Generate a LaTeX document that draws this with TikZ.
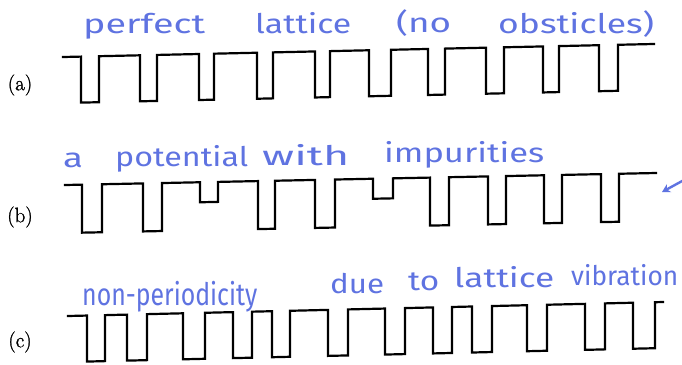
\documentclass[tikz,border=0pt]{standalone}
\usepackage{fontspec}
\usepackage{graphicx}
\usetikzlibrary{arrows.meta}
\newfontfamily\handfont{Fira Sans}
\newfontface\labfont[FakeBold=1.2]{Latin Modern Roman}
\definecolor{handblue}{RGB}{95,115,225}
\newcommand{\hwword}[3][1]{\resizebox{#2pt}{#1\height}{\handfont\fontsize{27}{30}\selectfont #3}}
\newcommand{\labtext}[1]{\labfont\fontsize{21}{23}\selectfont #1}
\begin{document}
\begin{tikzpicture}[x=1pt,y=-1pt,
  wave/.style={line width=2.2pt,line join=miter,line cap=rect,black},
  hand/.style={inner sep=0pt,anchor=base west,text=handblue},
  lab/.style={inner sep=0pt}]
\useasboundingbox[fill=white] (0,0) rectangle (682,364);

% labels
\node[lab] (la) at (20,85) {\labtext{(a)}};
\node[lab] (lb) at (20,217) {\labtext{(b)}};
\node[lab] (lc) at (20,342) {\labtext{(c)}};

% handwritten captions
\node[hand] (a1) at (83,33) {\hwword{122}{perfect}};
\node[hand] (a2) at (255,33) {\hwword{96}{lattice}};
\node[hand] (a3) at (396,33) {\hwword{55}{(no}};
\node[hand] (a4) at (498,34) {\hwword{156}{obsticles)}};

\node[hand] (b1) at (63,167) {\hwword{20}{a}};
\node[hand] (b2) at (115,166) {\hwword{133}{potential}};
\node[hand] (b3) at (262,165) {\hwword{87}{with}};
\node[hand] (b4) at (384,162) {\hwword{160}{impurities}};

\node[hand] (c1) at (82,305) {\hwword[1.15]{175}{non-periodicity}};
\node[hand] (c2) at (330,293) {\hwword{54}{due}};
\node[hand] (c3) at (408,290) {\hwword{31}{to}};
\node[hand] (c4) at (454,287) {\hwword{100}{lattice}};
\node[hand] (c5) at (571,285) {\hwword{107}{vibration}};

% (a) perfect lattice
\begin{scope}[shift={(63,57)},yslant=0.022]
\draw[wave] (0,0)
  \foreach \a/\b in {18/36,77/94,136/151,194/210,252/267,306/328,365/382,423/441,480/496,536/555}
  { -- (\a,0) -- (\a,46) -- (\b,46) -- (\b,0) } -- (591,0);
\end{scope}

% (b) potential with impurities
\begin{scope}[shift={(65,185)},yslant=0.0203]
\draw[wave] (0,0)
  \foreach \a/\b/\d in {17/37/48,78/97/48,135/153/20,193/210/48,250/270/48,308/328/20,365/384/48,423/441/48,479/497/48,536/554/48}
  { -- (\a,0) -- (\a,\d) -- (\b,\d) -- (\b,0) } -- (591,0);
\end{scope}
\coordinate (arrs) at (684,180);
\coordinate (arre) at (662,192);
\draw[handblue,line width=2.4pt,-{Stealth[length=8pt,width=9pt]}] (arrs) -- (arre);

% (c) lattice vibration
\begin{scope}[shift={(68,316)},yslant=0.0235]
\draw[wave] (0,0)
  \foreach \a/\b in {19/37,59/79,115/137,165/184,204/222,260/280,317/337,365/384,404/424,459/479,517/537,565/587}
  { -- (\a,0) -- (\a,46) -- (\b,46) -- (\b,0) } -- (595,0);
\end{scope}
\end{tikzpicture}
\end{document}
